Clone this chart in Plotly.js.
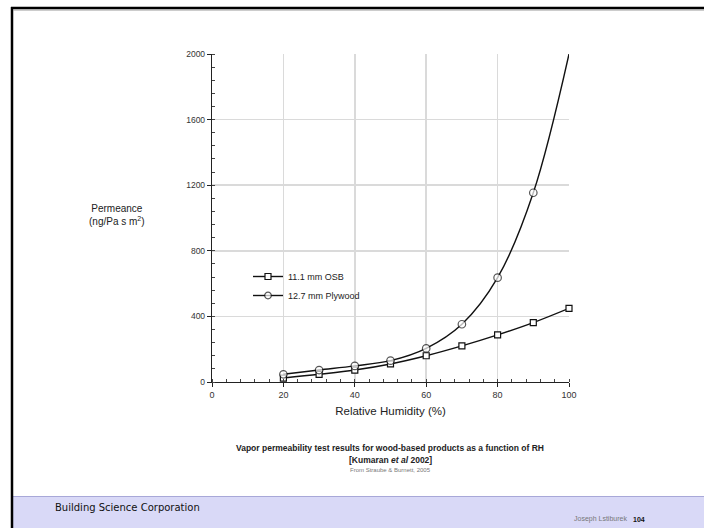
<!DOCTYPE html>
<html>
<head>
<meta charset="utf-8">
<script src="https://cdn.plot.ly/plotly-3.0.1.min.js"></script>
<style>html,body{margin:0;padding:0;background:#fff;}#chart{width:704px;height:528px;}</style>
</head>
<body>
<div id="chart"></div>
<script>
// Data
var rh = [20, 30, 40, 50, 60, 70, 80, 90, 100];
var osb = [24, 47, 73, 110, 160, 220, 287, 362, 449];          // 11.1 mm OSB (squares)
var plywood = [47, 73, 98, 130, 205, 352, 636, 1154, 2000];    // 12.7 mm Plywood (circles)
var plywoodMarkerSize = [7.5, 7.5, 7.5, 7.5, 7.5, 7.5, 7.5, 7.5, 0];
var seriesNames = ['11.1 mm OSB', '12.7 mm Plywood'];
var xTicks = [0, 20, 40, 60, 80, 100];
var yTicks = [0, 400, 800, 1200, 1600, 2000];

// pixel helpers for decoration placement
var L = 212, R = 569, T = 54, B = 382;
function px(x){ return (x - L) / (R - L); }
function py(y){ return (B - y) / (B - T); }

var traces = [
  {x: rh, y: osb, name: seriesNames[0], mode: 'lines+markers', type: 'scatter',
   line: {color: '#111', width: 1.4, shape: 'spline'},
   marker: {symbol: 'square', size: 6, color: '#fff', line: {width: 1.2, color: '#111'}},
   cliponaxis: false},
  {x: rh, y: plywood, name: seriesNames[1], mode: 'lines+markers', type: 'scatter',
   line: {color: '#111', width: 1.4, shape: 'spline'},
   marker: {symbol: 'circle', size: plywoodMarkerSize, color: '#fff', line: {width: 1.2, color: '#111'}},
   cliponaxis: true}
];

var shapes = [
  // footer band
  {type: 'rect', xref: 'paper', yref: 'paper', x0: px(13), x1: px(705), y0: py(497), y1: py(529),
   fillcolor: '#d9d9f7', line: {width: 0}, layer: 'below'},
  {type: 'line', xref: 'paper', yref: 'paper', x0: px(13), x1: px(705), y0: py(496.5), y1: py(496.5),
   line: {color: '#a8a8d8', width: 1}, layer: 'below'},
  // slide frame
  {type: 'line', xref: 'paper', yref: 'paper', x0: px(12), x1: px(12), y0: py(7), y1: py(529),
   line: {color: '#000', width: 2.5}},
  {type: 'line', xref: 'paper', yref: 'paper', x0: px(11), x1: px(705), y0: py(8), y1: py(8),
   line: {color: '#000', width: 2.5}},
  {type: 'line', xref: 'paper', yref: 'paper', x0: px(13), x1: px(705), y0: py(10), y1: py(10),
   line: {color: '#999', width: 1}}
];

var F = 'Liberation Sans, Arial';
var annotations = [
  {text: 'Permeance<br>(ng/Pa s m<sup>2</sup>)', xref: 'paper', yref: 'paper', x: px(117), y: py(215),
   xanchor: 'center', yanchor: 'middle',
   showarrow: false, align: 'center', font: {family: F, size: 10, color: '#222'}},
  {text: '<b>Vapor permeability test results for wood-based products as a function of RH</b>', xref: 'paper', yref: 'paper',
   x: px(390), y: py(448), xanchor: 'center', yanchor: 'middle', showarrow: false, font: {family: F, size: 8.5, color: '#222'}},
  {text: '<b>[Kumaran <i>et al</i> 2002]</b>', xref: 'paper', yref: 'paper',
   x: px(390), y: py(460), xanchor: 'center', yanchor: 'middle', showarrow: false, font: {family: F, size: 8.5, color: '#222'}},
  {text: 'From Straube &amp; Burnett, 2005', xref: 'paper', yref: 'paper',
   x: px(390), y: py(470), xanchor: 'center', yanchor: 'middle', showarrow: false, font: {family: F, size: 6, color: '#777'}},
  {text: 'Building Science Corporation', xref: 'paper', yref: 'paper', xanchor: 'left', yanchor: 'middle',
   x: px(53), y: py(507), showarrow: false, font: {family: 'DejaVu Sans, Verdana', size: 10, color: '#111'}},
  {text: 'Joseph Lstiburek', xref: 'paper', yref: 'paper', xanchor: 'right', yanchor: 'middle',
   x: px(629), y: py(519), showarrow: false, font: {family: F, size: 7, color: '#777'}},
  {text: '<b>104</b>', xref: 'paper', yref: 'paper', xanchor: 'left', yanchor: 'middle',
   x: px(631), y: py(519), showarrow: false, font: {family: F, size: 7, color: '#111'}}
];

var layout = {
  width: 704, height: 528,
  margin: {l: L, r: 704 - R, t: T, b: 528 - B},
  paper_bgcolor: '#fff', plot_bgcolor: '#fff',
  showlegend: true,
  legend: {x: px(248), y: py(262), xanchor: 'left', yanchor: 'top', bgcolor: 'rgba(0,0,0,0)',
           font: {family: F, size: 9, color: '#222'}, tracegroupgap: 4, itemwidth: 30},
  xaxis: {range: [0, 100], tickvals: xTicks, ticktext: xTicks.map(String),
          showgrid: true, gridcolor: '#dadada', gridwidth: 1.5, zeroline: false,
          showline: true, linecolor: '#222', linewidth: 1.2,
          ticks: 'outside', ticklen: 4, tickcolor: '#222',
          minor: {dtick: 4, ticks: 'inside', ticklen: 3, tickcolor: '#444', showgrid: false},
          tickfont: {family: F, size: 9, color: '#333'},
          title: {text: 'Relative Humidity (%)', standoff: 8, font: {family: F, size: 11.5, color: '#222'}}},
  yaxis: {range: [0, 2000], tickvals: yTicks, ticktext: yTicks.map(String),
          showgrid: true, gridcolor: '#dadada', gridwidth: 1.5, zeroline: false,
          showline: true, linecolor: '#222', linewidth: 1.2,
          ticks: 'outside', ticklen: 4, tickcolor: '#222',
          minor: {dtick: 80, ticks: 'inside', ticklen: 3, tickcolor: '#444', showgrid: false},
          tickfont: {family: F, size: 8.5, color: '#333'}},
  shapes: shapes,
  annotations: annotations
};

Plotly.newPlot('chart', traces, layout, {staticPlot: true, displayModeBar: false});
</script>
</body>
</html>
